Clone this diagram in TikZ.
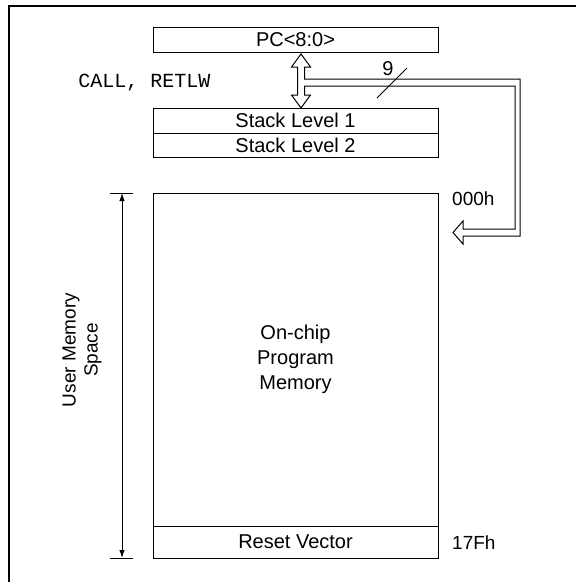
\documentclass[tikz,border=0pt]{standalone}
\usepackage{fontspec}
\setmainfont{Liberation Sans}
\setmonofont{Liberation Mono}
\usetikzlibrary{positioning, arrows.meta, calc}
\tikzset{
  memBox/.style={
    draw,
    line width=1pt,
    minimum width=285pt,
    inner sep=0pt,
    outer sep=0pt,
    font=\fontsize{20}{25}\selectfont
  },
  addrLabel/.style={
    anchor=west,
    inner sep=0pt,
    font=\fontsize{19}{23}\selectfont
  },
  frameLine/.style={line width=2.5pt},
  busLine/.style={line width=1pt, line join=miter},
  dimLine/.style={
    line width=1pt,
    {Latex[length=8pt,width=5.5pt]}-{Latex[length=8pt,width=5.5pt]}
  }
}

\begin{document}
\begin{tikzpicture}[x=1pt, y=-1pt]
  \useasboundingbox (0,0) rectangle (576,582);
  % outer frame
  \draw[frameLine] (9,582) -- (9,6) -- (576,6);

  % program counter and stack
  \node[memBox, minimum height=25pt] (pc) at (295.5,39.5) {PC<8:0>};
  \node[memBox, minimum height=25pt] (stackOne) at (295.5,120.5) {Stack Level 1};
  \node[memBox, minimum height=24pt, below=0pt of stackOne] (stackTwo) {Stack Level 2};
  \node[font=\ttfamily\fontsize{20}{24}\selectfont] (callLabel) at (144.5,83) {CALL, RETLW};

  % push/pop arrow and 9-bit bus to 000h
  \draw[busLine] (301,54) -- (310.5,67) -- (304.5,67) -- (304.5,79) -- (520,79)
    -- (520,236) -- (463,236) -- (463,244) -- (453,232.5) -- (463,221) -- (463,229)
    -- (515,229) -- (515,86) -- (304.5,86) -- (304.5,95) -- (310.5,95) -- (301,108)
    -- (291.5,95) -- (297.5,95) -- (297.5,67) -- (291.5,67) -- cycle;
  \coordinate (slashLow) at (377,98);
  \coordinate (slashHigh) at (407,68);
  \draw[line width=1pt] (slashLow) -- (slashHigh);
  \node[font=\fontsize{20}{24}\selectfont] (busWidth) at (388,69) {9};

  % program memory map
  \node[memBox, minimum height=333pt, align=center] (progMem) at (295.5,359.5)
    {On-chip\\Program\\Memory};
  \node[memBox, minimum height=32pt, below=0pt of progMem] (resetVec) {Reset Vector};
  \node[addrLabel] (addrLow) at (452,199) {000h};
  \node[addrLabel] (addrHigh) at (452,543) {17Fh};

  % user memory space dimension
  \coordinate (dimTop) at ($(progMem.north west)+(-31,0)$);
  \coordinate (dimBot) at ($(resetVec.south west)+(-31,0)$);
  \draw[line width=1pt] ($(dimTop)+(-12,0)$) -- ($(dimTop)+(11,0)$);
  \draw[line width=1pt] ($(dimBot)+(-12,0)$) -- ($(dimBot)+(11,0)$);
  \draw[dimLine] (dimTop) -- (dimBot);
  \node[rotate=90, align=center, font=\fontsize{19}{22}\selectfont] (spaceLabel) at (82,350)
    {User Memory\\Space};
\end{tikzpicture}
\end{document}
